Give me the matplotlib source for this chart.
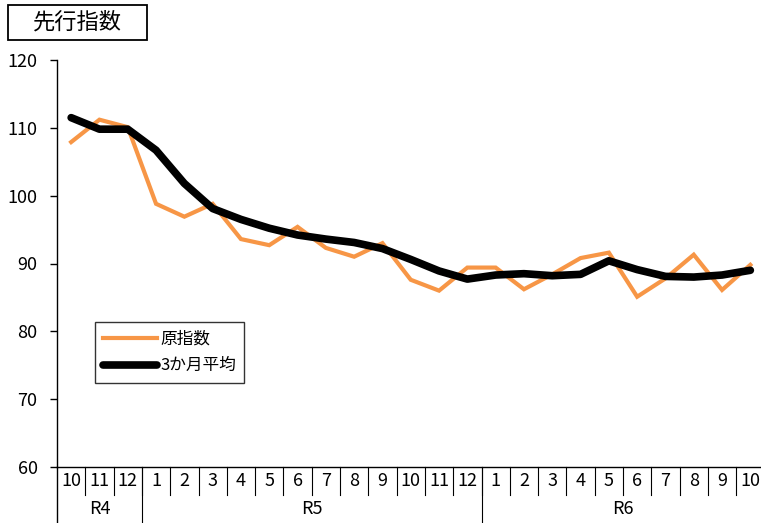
import matplotlib
matplotlib.use("Agg")
import matplotlib.pyplot as plt
import matplotlib.transforms as mtransforms
from matplotlib.patches import Rectangle

plt.rcParams['font.family'] = ['Noto Sans CJK JP', 'DejaVu Sans']

months = ['10', '11', '12', '1', '2', '3', '4', '5', '6', '7', '8', '9', '10', '11', '12',
          '1', '2', '3', '4', '5', '6', '7', '8', '9', '10']
years = ['R4', 'R5', 'R6']
year_counts = [3, 12, 10]
raw_index = [107.9, 111.2, 110.1, 98.8, 96.9, 98.8, 93.6, 92.7, 95.4, 92.3, 91.0, 93.0, 87.6,
             86.0, 89.4, 89.4, 86.2, 88.4, 90.8, 91.6, 85.1, 87.8, 91.3, 86.1, 89.8]
avg3 = [111.5, 109.8, 109.8, 106.7, 101.8, 98.1, 96.5, 95.2, 94.2, 93.6, 93.1, 92.2, 90.6,
        88.9, 87.7, 88.3, 88.5, 88.2, 88.4, 90.4, 89.1, 88.1, 88.0, 88.3, 89.0]
title = '先行指数'
yticks = [60, 70, 80, 90, 100, 110, 120]

W, H = 761, 523
fig = plt.figure(figsize=(W / 100, H / 100), dpi=100)
ax_l, ax_r, ax_t, ax_b = 57, 764.5, 60, 467
ax = fig.add_axes([ax_l / W, (H - ax_b) / H, (ax_r - ax_l) / W, (ax_b - ax_t) / H])

x = list(range(len(months)))
ax.plot(x, raw_index, color='#F79646', lw=3.0, label='原指数', solid_joinstyle='miter')
ax.plot(x, avg3, color='black', lw=5.5, label='3か月平均', solid_capstyle='round')

ax.set_xlim(-0.5, len(months) - 0.5)
ax.set_ylim(60, 120)
ax.set_yticks(yticks)
ax.tick_params(axis='y', direction='out', length=5, width=1, labelsize=13, pad=9)
ax.set_xticks([])
for s in ['top', 'right']:
    ax.spines[s].set_visible(False)
for s in ['left', 'bottom']:
    ax.spines[s].set_linewidth(1)

trans = mtransforms.blended_transform_factory(ax.transData, ax.transAxes)
axh = ax_b - ax_t
row1 = -28 / axh
row2 = -56 / axh
# month row
for i, m in enumerate(months):
    ax.text(i, row1 / 2, m, transform=trans, ha='center', va='center', fontsize=13)
    if i > 0:
        ax.plot([i - 0.5, i - 0.5], [0, row1], transform=trans, color='black', lw=0.8, clip_on=False)
# left spine extension
ax.plot([-0.5, -0.5], [0, row2], transform=trans, color='black', lw=1, clip_on=False)
# year row
start = 0
for yname, cnt in zip(years, year_counts):
    ax.text(start + (cnt - 1) / 2, (row1 + row2) / 2, yname, transform=trans, ha='center', va='center', fontsize=13)
    end = start + cnt
    if end < len(months):
        ax.plot([end - 0.5, end - 0.5], [0, row2], transform=trans, color='black', lw=0.8, clip_on=False)
    start = end

# title box
fig.patches.append(Rectangle((8 / W, 1 - 40 / H), 139 / W, 35 / H, transform=fig.transFigure,
                             fill=False, ec='black', lw=1.3))
fig.text(77 / W, 1 - 22.5 / H, title, ha='center', va='center', fontsize=16)

leg = ax.legend(loc='upper left', bbox_to_anchor=((95 - ax_l) / (ax_r - ax_l), (ax_b - 322) / axh),
                fontsize=12, frameon=True, fancybox=False, edgecolor='black', handlelength=3.2,
                handletextpad=0.2, borderpad=0.5, labelspacing=0.6, borderaxespad=0)
leg.get_frame().set_linewidth(1)

fig.savefig('out.png', dpi=100)
